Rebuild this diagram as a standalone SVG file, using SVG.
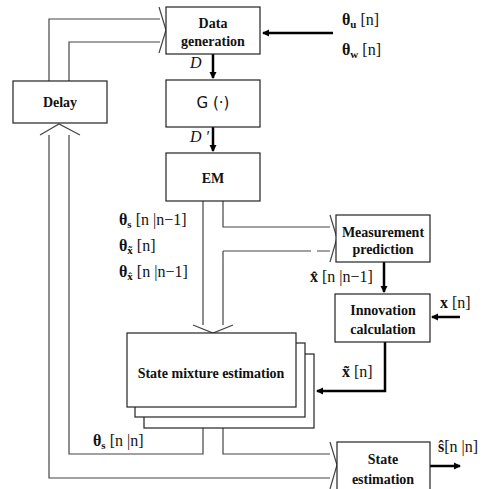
<svg xmlns="http://www.w3.org/2000/svg" width="490" height="489" viewBox="0 0 490 489">
<style>
.box{fill:#fff;stroke:#222;stroke-width:1.2}
.h{fill:none;stroke:#444;stroke-width:1.2}
.a{fill:none;stroke:#000;stroke-width:2.5}
.t{font-family:"Liberation Serif",serif;font-weight:bold;font-size:14px;text-anchor:middle;fill:#111}
.l{font-family:"Liberation Serif",serif;font-size:16px;fill:#111}
.b{font-weight:bold}
</style>
<defs>
<marker id="ah" markerWidth="8" markerHeight="8" refX="6" refY="4" orient="auto" markerUnits="userSpaceOnUse">
<path d="M0,0.5 L7,4 L0,7.5 Z" fill="#000"/>
</marker>
</defs>
<rect width="490" height="489" fill="#fff"/>
<g id="connectors">
<path class="h" d="M49,81 V19 H160 M69,81 V42 H160 M159,7 L166,30 L159,53"/>
<path class="h" d="M49,135 V478 H330 M69,135 V454 H203 V428 M223,428 V454 H330 M40,135 L59,124 L80,135 M330,442 L337,465 L330,489"/>
<path class="h" d="M203,201 V325 M223,201 V227 H330 M223,251 V325 M223,251 H311 M317,251 H330 M193,325 L213,333 L233,325 M330,215 L337,238 L330,262"/>
<line class="a" x1="333" y1="33" x2="263" y2="33" marker-end="url(#ah)"/>
<line class="a" x1="213" y1="54" x2="213" y2="78" marker-end="url(#ah)"/>
<line class="a" x1="213" y1="127" x2="213" y2="151" marker-end="url(#ah)"/>
<line class="a" x1="384" y1="262" x2="384" y2="292" marker-end="url(#ah)"/>
<line class="a" x1="460" y1="317" x2="432" y2="317" marker-end="url(#ah)"/>
<path class="a" d="M385,342 V391 H317" marker-end="url(#ah)"/>
<line class="a" x1="430" y1="466" x2="460" y2="466" marker-end="url(#ah)"/>
</g>
<g id="datagen">
<rect class="box" x="166" y="7" width="94" height="47"/>
<text class="t" x="213" y="28">Data</text>
<text class="t" x="213" y="46">generation</text>
</g>
<g id="g">
<rect class="box" x="166" y="80" width="94" height="47"/>
<text x="213" y="108" style="font-family:'DejaVu Sans',sans-serif;font-size:15px;text-anchor:middle;fill:#111">G (·)</text>
</g>
<g id="em">
<rect class="box" x="166" y="153" width="94" height="48"/>
<text class="t" x="213" y="183">EM</text>
</g>
<g id="delay">
<rect class="box" x="13" y="81" width="94" height="42"/>
<text class="t" x="60" y="107">Delay</text>
</g>
<g id="measpred">
<rect class="box" x="336" y="215" width="94" height="47"/>
<text class="t" x="383" y="237">Measurement</text>
<text class="t" x="383" y="254">prediction</text>
</g>
<g id="innov">
<rect class="box" x="335" y="294" width="95" height="48"/>
<text class="t" x="383" y="315">Innovation</text>
<text class="t" x="383" y="334">calculation</text>
</g>
<g id="stateest">
<rect class="box" x="337" y="442" width="93" height="52"/>
<text class="t" x="383" y="464">State</text>
<text class="t" x="383" y="484">estimation</text>
</g>
<g id="sme">
<rect class="box" x="144" y="354" width="170" height="74"/>
<rect class="box" x="135" y="343" width="170" height="74"/>
<rect class="box" x="127" y="333" width="169" height="74"/>
<text class="t" x="211" y="378">State mixture  estimation</text>
</g>
<g id="labels">
<text class="l" x="342" y="25"><tspan class="b">θ</tspan><tspan class="b" font-size="11" dy="3">u</tspan><tspan dy="-3"> [n]</tspan></text>
<text class="l" x="342" y="55"><tspan class="b">θ</tspan><tspan class="b" font-size="11" dy="3">w</tspan><tspan dy="-3"> [n]</tspan></text>
<text class="l" x="190" y="68" font-style="italic">D</text>
<text class="l" x="190" y="142" font-style="italic">D ′</text>
<text class="l" x="119" y="225"><tspan class="b">θ</tspan><tspan class="b" font-size="11" dy="3">s</tspan><tspan dy="-3"> [n |n−1]</tspan></text>
<text class="l" x="119" y="251"><tspan class="b">θ</tspan><tspan class="b" font-size="11" dy="3">x̃</tspan><tspan dy="-3"> [n]</tspan></text>
<text class="l" x="119" y="277"><tspan class="b">θ</tspan><tspan class="b" font-size="11" dy="3">x̂</tspan><tspan dy="-3"> [n |n−1]</tspan></text>
<text class="l" x="310" y="282"><tspan class="b">x̂</tspan> [n |n−1]</text>
<text class="l" x="440" y="308"><tspan class="b">x</tspan> [n]</text>
<text class="l" x="342" y="377"><tspan class="b">x̃</tspan> [n]</text>
<text class="l" x="93" y="446"><tspan class="b">θ</tspan><tspan class="b" font-size="11" dy="3">s</tspan><tspan dy="-3"> [n |n]</tspan></text>
<text class="l" x="438" y="452"><tspan class="b">ŝ</tspan>[n |n]</text>
</g>
</svg>
